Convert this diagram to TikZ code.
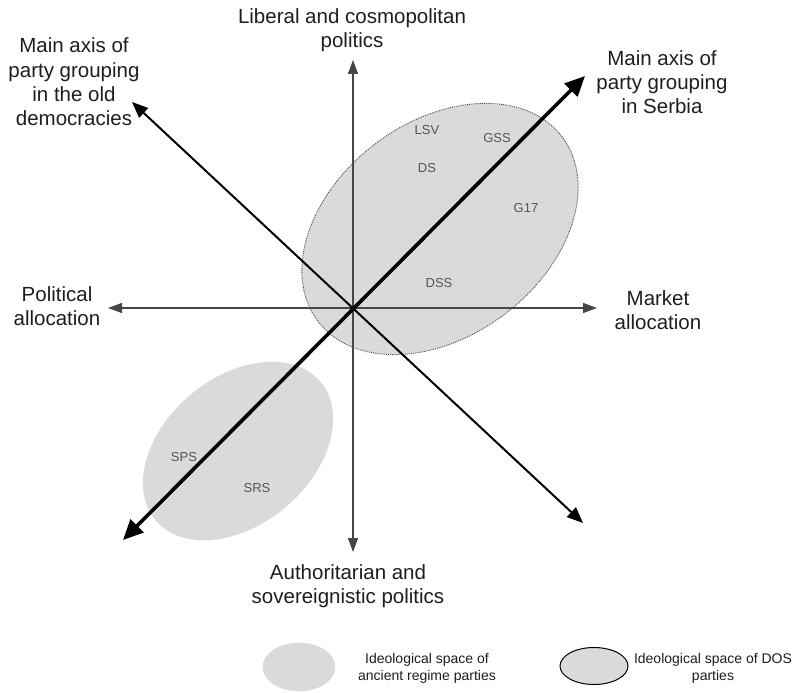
\documentclass[tikz,border=0pt]{standalone}
\usepackage{fontspec}
\setmainfont{Liberation Sans}
\usetikzlibrary{arrows.meta,shapes.geometric}
\definecolor{spacegray}{RGB}{218,218,218}
\definecolor{axisgray}{RGB}{70,70,70}
\definecolor{partygray}{RGB}{85,85,85}
\definecolor{labelcol}{RGB}{30,30,30}
\begin{document}
\begin{tikzpicture}[x=1pt,y=-1pt,
  axisline/.style={draw=axisgray, line width=1.1pt,
    {Triangle[length=14pt,width=10pt]}-{Triangle[length=14pt,width=10pt]}},
  thinaxis/.style={draw=black, line width=2pt,
    {Triangle[length=16pt,width=13pt]}-{Triangle[length=16pt,width=13pt]}},
  thickaxis/.style={draw=black, line width=3.6pt,
    {Triangle[length=20pt,width=18pt]}-{Triangle[length=20pt,width=18pt]}},
  axislabel/.style={font=\fontsize{20.5pt}{24.3pt}\selectfont, text=labelcol, align=center, inner sep=0pt},
  partylabel/.style={font=\fontsize{13pt}{15pt}\selectfont, text=partygray, inner sep=0pt},
  legendlabel/.style={font=\fontsize{14pt}{17pt}\selectfont, text=labelcol, align=center, inner sep=0pt},
  space/.style={ellipse, fill=spacegray, inner sep=0pt}
]
\useasboundingbox (0,0) rectangle (795,693);

% ideological spaces
\node[space, draw=white!85!black, densely dotted, line width=0.6pt,
  minimum width=215pt, minimum height=147pt, rotate=40] (ancient) at (238,451) {};
\node[space, draw=black!70, densely dotted, line width=0.9pt,
  minimum width=306pt, minimum height=214pt, rotate=37] (dos) at (440,229) {};

% axes
\coordinate (O) at (353,308);
\coordinate (vt) at (353,60);
\coordinate (vb) at (353,552);
\coordinate (hl) at (108,308);
\coordinate (hr) at (597,308);
\coordinate (dul) at (132,102);
\coordinate (dlr) at (583,523);
\coordinate (sur) at (585,76);
\coordinate (sll) at (123,540);

\draw[axisline] (vb) -- (vt);
\draw[axisline] (hl) -- (hr);
\draw[thinaxis] (dul) -- (dlr);
\draw[thickaxis] (sll) -- (sur);

% axis labels
\node[axislabel] (ltop) at (352,30) {Liberal and cosmopolitan\\politics};
\node[axislabel] (lold) at (74,82) {Main axis of\\party grouping\\in the old\\democracies};
\node[axislabel] (lserb) at (662,82) {Main axis of\\party grouping\\in Serbia};
\node[axislabel] (lpol) at (57,306) {Political\\allocation};
\node[axislabel] (lmar) at (658,310) {Market\\allocation};
\node[axislabel] (lauth) at (348,586) {Authoritarian and\\sovereignistic politics};

% parties
\node[partylabel] (lsv) at (427,130) {LSV};
\node[partylabel] (gss) at (497,138) {GSS};
\node[partylabel] (ds) at (427,168) {DS};
\node[partylabel] (g17) at (526,208) {G17};
\node[partylabel] (dss) at (439,283) {DSS};
\node[partylabel] (sps) at (184,457) {SPS};
\node[partylabel] (srs) at (257,488) {SRS};

% legend
\node[space, draw=white!85!black, line width=0.6pt,
  minimum width=72pt, minimum height=48pt] (legancient) at (299,667) {};
\node[legendlabel] (legancienttext) at (427,668) {Ideological space of\\ancient regime parties};
\node[space, draw=black, line width=1pt,
  minimum width=68pt, minimum height=37pt] (legdos) at (594,666) {};
\node[legendlabel] (legdostext) at (713,668) {Ideological space of DOS\\parties};
\end{tikzpicture}
\end{document}
